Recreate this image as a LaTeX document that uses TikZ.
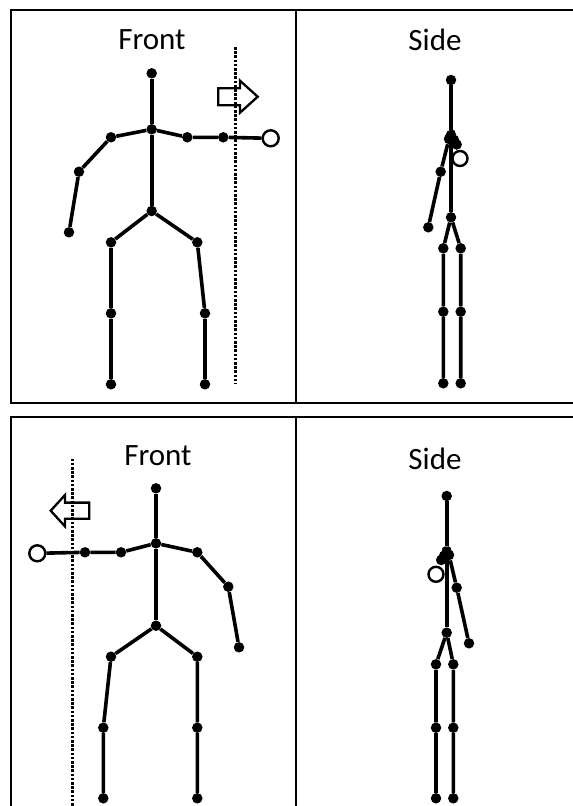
\documentclass[tikz,border=0pt]{standalone}
\usepackage{fontspec}
\setmainfont{Carlito}
\begin{document}
\begin{tikzpicture}[x=1pt, y=-1pt,
  frame/.style={line width=2.6pt},
  bone/.style={line width=3.6pt},
  joint/.style={circle, fill=black, inner sep=0pt, minimum size=10.5pt},
  handpt/.style={circle, draw=black, fill=white, line width=2.4pt, inner sep=0pt, minimum size=16pt},
  guide/.style={line width=3.2pt, dash pattern=on 2.6pt off 1.6pt},
  movearrow/.style={line width=2.3pt, line join=miter},
  title/.style={font=\fontsize{31}{33}\selectfont, inner sep=0pt}]
\useasboundingbox (0,0) rectangle (573,806);
\fill[white] (0,0) rectangle (573,806);

% panel frames
\draw[frame] (582,10) -- (11,10) -- (11,403) -- (582,403);
\draw[frame] (296,10) -- (296,403);
\draw[frame] (582,417) -- (11,417) -- (11,815);
\draw[frame] (296,417) -- (296,815);

% titles
\node[title] (t1) at (152,40) {Front};
\node[title] (t2) at (435,40) {Side};
\node[title] (t3) at (158,456) {Front};
\node[title] (t4) at (435,459) {Side};

% ---------- upper row, front view ----------
\node[joint] (a-head) at (151.7,73.3) {};
\node[joint] (a-neck) at (151.7,129.3) {};
\node[joint] (a-ls) at (111,137.3) {};
\node[joint] (a-le) at (79,171.7) {};
\node[joint] (a-lh) at (69,232.3) {};
\node[joint] (a-rs) at (187.3,137.3) {};
\node[joint] (a-re) at (223.3,137.3) {};
\node[joint] (a-hip) at (151.7,211) {};
\node[joint] (a-lhip) at (111,242.3) {};
\node[joint] (a-lk) at (111,313.3) {};
\node[joint] (a-lf) at (111,384.3) {};
\node[joint] (a-rhip) at (197.3,242.3) {};
\node[joint] (a-rk) at (205,313.3) {};
\node[joint] (a-rf) at (205,384.3) {};
\node[handpt] (a-rh) at (270.7,138.3) {};
\draw[bone] (a-head) -- (a-neck) -- (a-hip);
\draw[bone] (a-neck) -- (a-ls) -- (a-le) -- (a-lh);
\draw[bone] (a-neck) -- (a-rs) -- (a-re) -- (a-rh);
\draw[bone] (a-hip) -- (a-lhip) -- (a-lk) -- (a-lf);
\draw[bone] (a-hip) -- (a-rhip) -- (a-rk) -- (a-rf);
\coordinate (a-gtop) at (235.7,47);
\coordinate (a-gbot) at (235.7,383.5);
\draw[guide] (a-gtop) -- (a-gbot);
\draw[movearrow] (218.3,88.2) -- (240,88.2) -- (240,80.7) -- (257.7,96.7)
  -- (240,112.7) -- (240,105.2) -- (218.3,105.2) -- cycle;

% ---------- upper row, side view ----------
\node[joint] (b-head) at (451,80) {};
\node[joint] (b-neck) at (451,135) {};
\node[joint] (b-ls) at (449,139) {};
\node[joint] (b-le) at (440.7,171.7) {};
\node[joint] (b-lh) at (428.3,227.3) {};
\node[joint] (b-rs) at (454,140) {};
\node[joint] (b-re) at (456.7,144.5) {};
\node[joint] (b-hip) at (451,217.3) {};
\node[joint] (b-lhip) at (443.3,248.3) {};
\node[joint] (b-lk) at (443.3,311.7) {};
\node[joint] (b-lf) at (443.3,383.3) {};
\node[joint] (b-rhip) at (460.7,248.3) {};
\node[joint] (b-rk) at (460.7,311.7) {};
\node[joint] (b-rf) at (460.7,383.3) {};
\draw[bone] (b-head) -- (b-neck) -- (b-hip);
\draw[bone] (b-neck) -- (b-ls) -- (b-le) -- (b-lh);
\draw[bone] (b-hip) -- (b-lhip) -- (b-lk) -- (b-lf);
\draw[bone] (b-hip) -- (b-rhip) -- (b-rk) -- (b-rf);
\draw[bone] (b-neck) -- (b-rs) -- (b-re);
\node[handpt, minimum size=15pt] (b-rh) at (460,158.5) {};

% ---------- lower row, front view ----------
\node[joint] (c-head) at (156,488.3) {};
\node[joint] (c-neck) at (156,543.3) {};
\node[joint] (c-rs) at (197.3,552.3) {};
\node[joint] (c-re) at (228.3,586.7) {};
\node[joint] (c-rh) at (239,647.3) {};
\node[joint] (c-ls) at (121,552.3) {};
\node[joint] (c-le) at (85,552.3) {};
\node[joint] (c-hip) at (156,625.7) {};
\node[joint] (c-lhip) at (111,656.7) {};
\node[joint] (c-lk) at (103.3,727.7) {};
\node[joint] (c-lf) at (103.3,798.3) {};
\node[joint] (c-rhip) at (197.3,656.7) {};
\node[joint] (c-rk) at (197.3,727.7) {};
\node[joint] (c-rf) at (197.3,798.3) {};
\node[handpt] (c-lh) at (37.3,553.3) {};
\draw[bone] (c-head) -- (c-neck) -- (c-hip);
\draw[bone] (c-neck) -- (c-rs) -- (c-re) -- (c-rh);
\draw[bone] (c-neck) -- (c-ls) -- (c-le) -- (c-lh);
\draw[bone] (c-hip) -- (c-lhip) -- (c-lk) -- (c-lf);
\draw[bone] (c-hip) -- (c-rhip) -- (c-rk) -- (c-rf);
\coordinate (c-gtop) at (72.7,458.5);
\coordinate (c-gbot) at (72.7,810);
\draw[guide] (c-gtop) -- (c-gbot);
\draw[movearrow] (89.3,502.6) -- (65,502.6) -- (65,495) -- (50.7,510.7)
  -- (65,526.4) -- (65,518.8) -- (89.3,518.8) -- cycle;

% ---------- lower row, side view ----------
\node[joint] (d-head) at (446.7,496) {};
\node[joint] (d-neck) at (446.7,551.7) {};
\node[joint] (d-rs) at (449,555) {};
\node[joint] (d-re) at (456.7,587.7) {};
\node[joint] (d-rh) at (469,643.3) {};
\node[joint] (d-ls) at (444,556) {};
\node[joint] (d-le) at (441.2,560) {};
\node[joint] (d-hip) at (446.7,632.7) {};
\node[joint] (d-lhip) at (436,664.3) {};
\node[joint] (d-lk) at (436,727.7) {};
\node[joint] (d-lf) at (436,798.3) {};
\node[joint] (d-rhip) at (453.3,664.3) {};
\node[joint] (d-rk) at (453.3,727.7) {};
\node[joint] (d-rf) at (453.3,798.3) {};
\draw[bone] (d-head) -- (d-neck) -- (d-hip);
\draw[bone] (d-neck) -- (d-rs) -- (d-re) -- (d-rh);
\draw[bone] (d-hip) -- (d-lhip) -- (d-lk) -- (d-lf);
\draw[bone] (d-hip) -- (d-rhip) -- (d-rk) -- (d-rf);
\draw[bone] (d-neck) -- (d-ls) -- (d-le);
\node[handpt, minimum size=15pt] (d-lh) at (436,574.3) {};
\end{tikzpicture}
\end{document}
